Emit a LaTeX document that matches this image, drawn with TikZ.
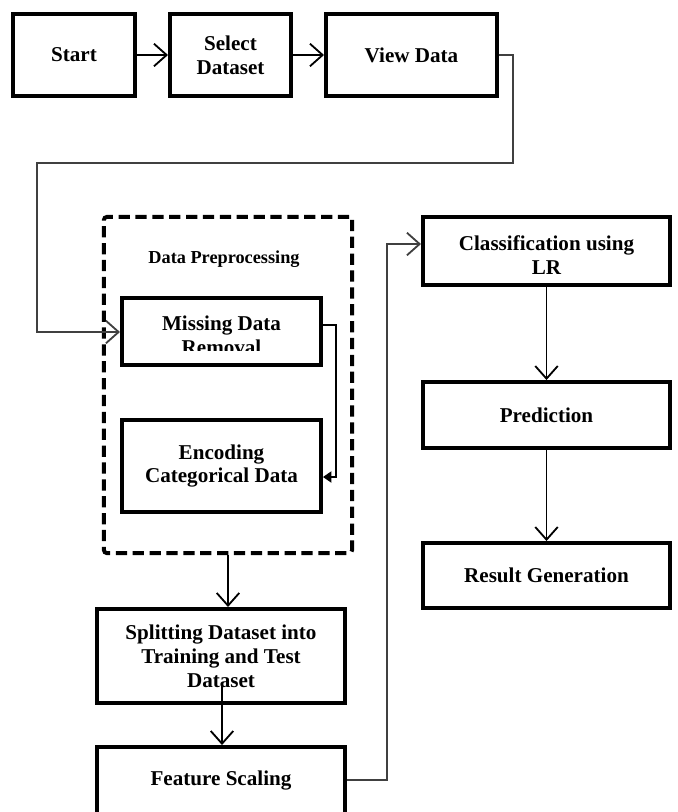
\documentclass[tikz,border=0pt]{standalone}
\usepackage{fontspec}
\setmainfont{Liberation Serif}
\usetikzlibrary{arrows.meta}
\begin{document}
\begin{tikzpicture}[x=0.025cm, y=-0.025cm]
	\tikzstyle{every node} = [font=\fontsize{15}{17}\selectfont\bfseries, align=center, inner sep=0pt]
	\tikzstyle{box} = [draw, line width=2.8pt, minimum height=1.65cm, minimum width=6.2cm]
	\tikzstyle{flow} = [draw, line width=1.3pt, -{Straight Barb[length=9pt,width=16pt,line width=1.3pt]}]
	\tikzstyle{link} = [draw, black!75, line width=1pt, -{Straight Barb[length=9pt,width=16pt,line width=1.3pt]}]
	\useasboundingbox (0,0) rectangle (678,812);
	\node[box, minimum width=3.05cm, minimum height=2.05cm] (start) at (74,55) {Start};
	\node[box, minimum width=3.025cm, minimum height=2.05cm] (select) at (230.5,55) {Select\\Dataset};
	\node[box, minimum width=4.275cm, minimum height=2.05cm] (view) at (411.5,55) {View Data};
	\node[draw, line width=2.8pt, dash pattern=on 8pt off 4pt, rounded corners=2pt, minimum width=6.2cm, minimum height=8.4cm] (pre) at (228,385) {};
	\node[font=\fontsize{13}{15}\selectfont\bfseries] (pretitle) at (224,259) {Data Preprocessing};
	\node[box, minimum width=4.975cm, minimum height=1.675cm] (missing) at (221.5,331.5) {};
	\begin{scope}
		\clip (122,298) rectangle (321,350);
		\node (missingtxt) at (221.5,335) {Missing Data\\Removal};
	\end{scope}
	\node[box, minimum width=4.975cm, minimum height=2.3cm] (encoding) at (221.5,466) {Encoding\\Categorical Data};
	\node[box, minimum height=2.35cm] (split) at (221,656) {Splitting Dataset into\\Training and Test\\Dataset};
	\node[box, minimum height=1.75cm] (feature) at (221,782) {};
	\node (featuretxt) at (221,780) {Feature Scaling};
	\node[box, minimum width=6.175cm, minimum height=1.7cm] (classif) at (546.5,251) {};
	\begin{scope}
		\clip (423,217) rectangle (670,274);
		\node (classiftxt) at (546.5,255) {Classification using\\LR};
	\end{scope}
	\node[box, minimum width=6.175cm] (predict) at (546.5,415) {Prediction};
	\node[box, minimum width=6.175cm, minimum height=1.625cm] (result) at (546.5,575.5) {Result Generation};
	\coordinate (c1) at (513,55);
	\coordinate (c2) at (513,163);
	\coordinate (c3) at (37,163);
	\coordinate (c4) at (37,332);
	\coordinate (m1) at (336,325);
	\coordinate (m2) at (336,477);
	\coordinate (s1) at (222,683);
	\coordinate (f1) at (387,780);
	\coordinate (f2) at (387,244);
	\draw [flow] (start) -- (select);
	\draw [flow] (select) -- (view);
	\draw [link] (view.east) -- (c1) -- (c2) -- (c3) -- (c4) -- (c4 -| missing.west);
	\draw [line width=1pt, -{Triangle[length=6pt,width=8pt]}] (m1 -| missing.east) -- (m1) -- (m2) -- (m2 -| encoding.east);
	\draw [flow] (pre.south) -- (pre.south |- split.north);
	\draw [flow] (s1) -- (s1 |- feature.north);
	\draw [link] (f1 -| feature.east) -- (f1) -- (f2) -- (f2 -| classif.west);
	\draw [flow] (classif) -- (predict);
	\draw [flow] (predict) -- (result);
\end{tikzpicture}
\end{document}
